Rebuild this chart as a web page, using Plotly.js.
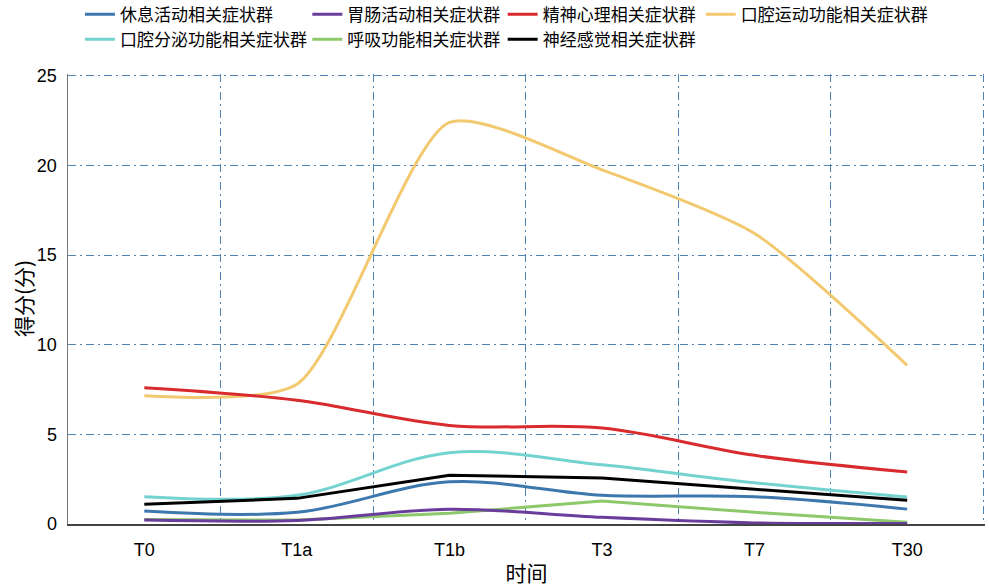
<!DOCTYPE html>
<html>
<head>
<meta charset="utf-8">
<script src="https://cdn.plot.ly/plotly-3.0.1.min.js"></script>
<style>html,body{margin:0;padding:0;background:#fff;}#chart{width:989px;height:588px;}</style>
</head>
<body>
<div id="chart"></div>
<script>
const categories = ["T0", "T1a", "T1b", "T3", "T7", "T30"];

const restActivity   = [0.72, 0.65, 2.35, 1.60, 1.52, 0.83];
const gastro         = [0.22, 0.20, 0.82, 0.37, 0.06, 0.03];
const mental         = [7.60, 6.90, 5.50, 5.35, 3.83, 2.90];
const oralMotor      = [7.15, 7.80, 22.40, 19.75, 16.20, 8.85];
const oralSecretion  = [1.52, 1.60, 3.98, 3.30, 2.30, 1.50];
const respiratory    = [0.25, 0.22, 0.60, 1.28, 0.65, 0.10];
const neuroSensory   = [1.10, 1.43, 2.72, 2.57, 1.94, 1.33];

const seriesNames = ["休息活动相关症状群", "胃肠活动相关症状群", "精神心理相关症状群", "口腔运动功能相关症状群",
                     "口腔分泌功能相关症状群", "呼吸功能相关症状群", "神经感觉相关症状群"];
const xTitle = "时间";
const yTitle = "得分(分)";

const FONT = "Liberation Sans, Arial, Noto Sans CJK SC, sans-serif";
const CJK = "Noto Sans CJK SC, Liberation Sans, sans-serif";

function tr(y, name, color, shape, smoothing, legend, rank) {
  return {
    x: categories, y: y, name: name, type: "scatter", mode: "lines",
    line: {color: color, width: 3, shape: shape, smoothing: smoothing},
    legend: legend, legendrank: rank
  };
}

const data = [
  tr(oralMotor, seriesNames[3], "#f2c96f", "spline", 0.65, "legend4", 1),
  tr(mental, seriesNames[2], "#d92b2e", "spline", 1, "legend3", 1),
  tr(oralSecretion, seriesNames[4], "#72d3d0", "spline", 1, "legend", 2),
  tr(neuroSensory, seriesNames[6], "#000000", "linear", 1, "legend3", 2),
  tr(restActivity, seriesNames[0], "#3c78ad", "spline", 1, "legend", 1),
  tr(respiratory, seriesNames[5], "#8dc86a", "linear", 1, "legend2", 2),
  tr(gastro, seriesNames[1], "#6a3d9c", "spline", 1, "legend2", 1)
];

function leg(x) {
  return {
    x: x, xanchor: "left", y: 1.172, yanchor: "top",
    orientation: "v", bgcolor: "rgba(0,0,0,0)", borderwidth: 0,
    font: {family: CJK, size: 17, color: "#000"}, traceorder: "normal",
    tracegroupgap: 0
  };
}

const gridColor = "#4f84b2";
const gridDash = "8px,4px,2px,4px";

const layout = {
  width: 989, height: 588,
  margin: {l: 68, r: 4, t: 74, b: 64, autoexpand: false},
  paper_bgcolor: "#fff", plot_bgcolor: "#fff",
  showlegend: true,
  legend: leg(0.013),
  legend2: leg(0.261),
  legend3: leg(0.474),
  legend4: leg(0.690),
  xaxis: {
    type: "category", categoryorder: "array", categoryarray: categories,
    range: [-0.5, 5.51], tickson: "boundaries", ticks: "",
    showgrid: true, gridcolor: gridColor, gridwidth: 1, griddash: gridDash,
    showline: true, linecolor: "#444", linewidth: 2,
    tickfont: {family: FONT, size: 18, color: "#000"},
    ticklabelstandoff: 8,
    title: {text: xTitle, font: {family: CJK, size: 21, color: "#000"}, standoff: 8},
    zeroline: false, fixedrange: true
  },
  yaxis: {
    range: [0, 25.1], tickvals: [0, 5, 10, 15, 20, 25], ticks: "",
    showgrid: true, gridcolor: gridColor, gridwidth: 1, griddash: gridDash,
    showline: true, linecolor: "#777", linewidth: 1.5,
    tickfont: {family: FONT, size: 18, color: "#000"},
    ticklabelstandoff: 6,
    zeroline: false, fixedrange: true
  },
  annotations: [{
    text: yTitle, textangle: -90, showarrow: false,
    xref: "paper", yref: "paper", x: -45 / 917, y: 0.5, xanchor: "center", yanchor: "middle",
    font: {family: CJK, size: 21, color: "#000"}
  }]
};

Plotly.newPlot("chart", data, layout, {displayModeBar: false, staticPlot: true});
</script>
</body>
</html>
